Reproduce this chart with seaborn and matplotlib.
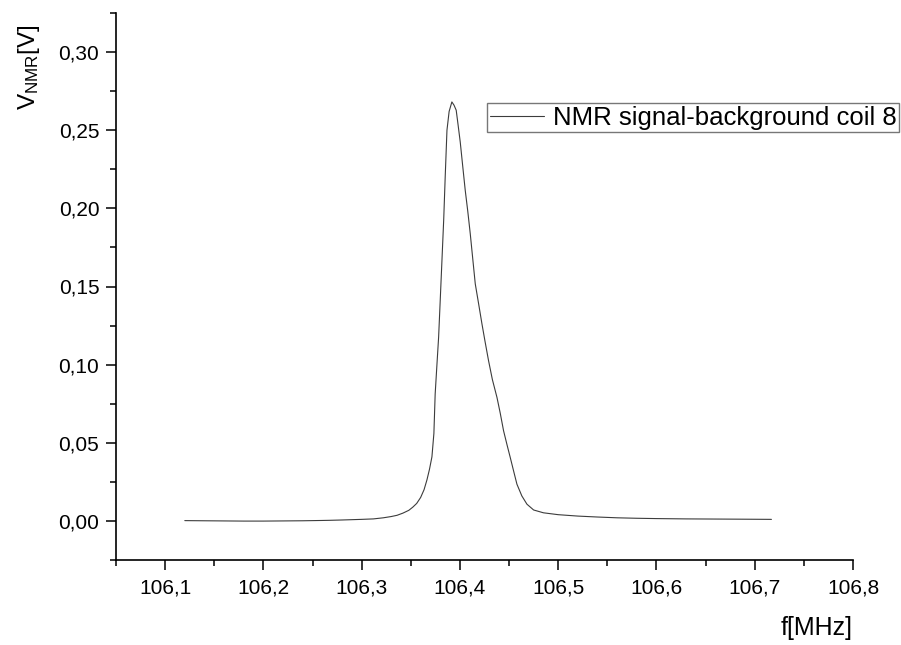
import matplotlib
matplotlib.use("Agg")
import matplotlib.pyplot as plt
import pandas as pd
import seaborn as sns
from matplotlib.ticker import FuncFormatter, MultipleLocator

# frequency [MHz] and NMR signal minus background [V]
freq = [
    106.120, 106.140, 106.160, 106.180, 106.200, 106.220, 106.240, 106.260,
    106.268, 106.280, 106.290, 106.300, 106.312, 106.322, 106.330, 106.336,
    106.342, 106.348, 106.352, 106.356, 106.360, 106.3635, 106.3664, 106.369,
    106.3715, 106.3735, 106.3748, 106.3765, 106.3783, 106.380, 106.3817,
    106.3835, 106.385, 106.3868, 106.389, 106.3918, 106.394, 106.3962,
    106.398, 106.4003, 106.403, 106.4054, 106.408, 106.4105, 106.413,
    106.4156, 106.419, 106.4224, 106.4255, 106.4291, 106.433, 106.4377,
    106.441, 106.4444, 106.448, 106.4512, 106.455, 106.458, 106.463,
    106.4682, 106.475, 106.485, 106.500, 106.520, 106.540, 106.560, 106.580,
    106.600, 106.630, 106.660, 106.690, 106.717,
]
signal = [
    0.0002, 0.0001, 0.0000, -0.0001, -0.0001, 0.0000, 0.0001, 0.0003,
    0.0004, 0.0006, 0.0008, 0.0010, 0.0013, 0.0020, 0.0028, 0.0036,
    0.0050, 0.0068, 0.0088, 0.0112, 0.0150, 0.0200, 0.0262, 0.0330,
    0.0410, 0.0560, 0.0812, 0.0990, 0.1175, 0.1420, 0.1667,
    0.1930, 0.2200, 0.2500, 0.2620, 0.2681, 0.2660, 0.2628,
    0.2540, 0.2425, 0.2260, 0.2115, 0.1980, 0.1838, 0.1680,
    0.1517, 0.1390, 0.1261, 0.1150, 0.1026, 0.0905, 0.0790,
    0.0690, 0.0577, 0.0485, 0.0406, 0.0310, 0.0235, 0.0160,
    0.0107, 0.0070, 0.0052, 0.0040, 0.0031, 0.0025, 0.0020, 0.0017,
    0.0015, 0.0013, 0.0012, 0.0011, 0.0010,
]
series_label = "NMR signal-background coil 8"

df = pd.DataFrame({"f": freq, "V": signal, "series": series_label})

sns.set_style("ticks")
plt.rcParams["font.family"] = ["Liberation Sans", "DejaVu Sans"]
plt.rcParams["mathtext.fontset"] = "custom"
plt.rcParams["mathtext.rm"] = "Liberation Sans"
plt.rcParams["mathtext.it"] = "Liberation Sans"
plt.rcParams["text.color"] = "black"
plt.rcParams["axes.labelcolor"] = "black"

fig = plt.figure(figsize=(9.01, 6.45), dpi=100)
ax = fig.add_axes([116 / 901, 1 - 560 / 645, 737 / 901, 547 / 645])

sns.lineplot(data=df, x="f", y="V", hue="series", palette=["#3c3c3c"],
             linewidth=0.8, sort=False, ax=ax, legend=False)
line = ax.lines[0]

ax.set_xlim(106.05, 106.8)
ax.set_ylim(-0.025, 0.325)
ax.xaxis.set_major_locator(MultipleLocator(0.1))
ax.xaxis.set_minor_locator(MultipleLocator(0.05))
ax.yaxis.set_major_locator(MultipleLocator(0.05))
ax.yaxis.set_minor_locator(MultipleLocator(0.025))

comma = lambda fmt: FuncFormatter(lambda v, p: (fmt % v).replace(".", ","))
ax.xaxis.set_major_formatter(comma("%.1f"))
ax.yaxis.set_major_formatter(comma("%.2f"))

sns.despine(ax=ax)
for s in ("left", "bottom"):
    ax.spines[s].set_linewidth(1.2)
    ax.spines[s].set_color("black")
ax.tick_params(which="major", direction="out", length=7, width=1.1,
               labelsize=15, colors="black")
ax.tick_params(which="minor", direction="out", length=4, width=1.1,
               colors="black")
ax.tick_params(axis="x", which="major", pad=6)
ax.tick_params(axis="y", which="major", pad=5)

ax.set_xlabel("f[MHz]", fontsize=18, ha="center", va="top", color="black")
ax.xaxis.set_label_coords((817 - 116) / 737, (560 - 616) / 547)
ax.set_ylabel(r"V$_{\mathrm{NMR}}$[V]", fontsize=17.5, va="center",
              color="black")
ax.yaxis.set_label_coords((29 - 116) / 737, (560 - 67) / 547)

leg = fig.legend([line], [series_label], loc="upper left",
                 bbox_to_anchor=(487 / 901, 1 - 103 / 645),
                 fontsize=18.5, frameon=True, fancybox=False,
                 handlelength=2.1, handletextpad=0.35, borderpad=0.1,
                 borderaxespad=0, labelcolor="black")
leg.get_frame().set_edgecolor("#555555")
leg.get_frame().set_linewidth(1.0)

fig.savefig("out.png", dpi=100)
